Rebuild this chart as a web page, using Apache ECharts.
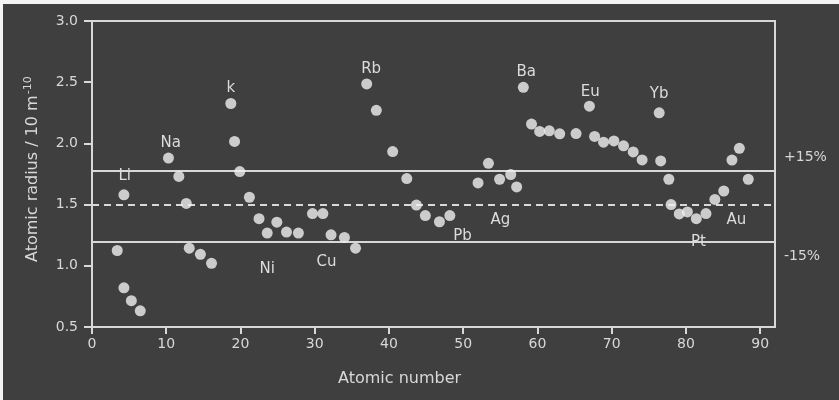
<!DOCTYPE html>
<html>
<head>
<meta charset="utf-8">
<script src="https://cdn.jsdelivr.net/npm/echarts@6/dist/echarts.min.js"></script>
<style>
html,body{margin:0;padding:0;background:#f4f4f4;}
#c{position:absolute;left:3px;top:4px;width:836px;height:396px;background:#3f3f3f;}
</style>
</head>
<body>
<div id="c"></div>
<script>
// Atomic numbers (x) and atomic radii (y, 10^-10 m)
const atomicNumber = [3.4,4.3,4.3,5.3,6.5,10.3,11.7,12.7,13.1,14.6,16.1,18.7,19.2,19.9,21.2,22.5,23.6,24.9,26.2,27.8,29.7,31.1,32.2,34.0,35.5,37.0,38.3,40.5,42.4,43.7,44.9,46.8,48.2,52.0,53.4,54.9,56.4,57.2,58.1,59.2,60.3,61.6,63.0,65.2,67.0,67.7,68.9,70.3,71.6,72.9,74.1,76.4,76.6,77.7,78.0,79.1,80.2,81.4,82.7,83.9,85.1,86.2,87.2,88.4];
const atomicRadius = [1.125,1.58,0.82,0.715,0.632,1.88,1.73,1.51,1.144,1.094,1.02,2.326,2.016,1.77,1.56,1.385,1.267,1.356,1.276,1.267,1.427,1.427,1.253,1.232,1.144,2.486,2.27,1.933,1.713,1.496,1.41,1.36,1.41,1.677,1.837,1.707,1.746,1.644,2.458,2.158,2.098,2.103,2.078,2.08,2.304,2.057,2.01,2.02,1.98,1.93,1.865,2.25,1.857,1.707,1.50,1.424,1.44,1.385,1.427,1.542,1.611,1.864,1.96,1.707];

// Element annotations (text anchor in data units)
const elementNames = ['Li','Na','k','Rb','Ni','Cu','Pb','Ag','Ba','Eu','Yb','Au','Pt'];
const elementX = [4.4,10.6,18.7,37.6,23.6,31.6,49.9,55.0,58.5,67.1,76.4,86.8,81.7];
const elementY = [1.73,2.0,2.45,2.61,0.97,1.03,1.24,1.37,2.58,2.42,2.40,1.375,1.19];

// Reference lines
const meanRadius = 1.5;
const upperLimit = 1.78;
const lowerLimit = 1.2;
const upperLabel = '+15%';
const lowerLabel = '-15%';

const xTicks = [0,10,20,30,40,50,60,70,80,90];
const yTicks = [0.5,1.0,1.5,2.0,2.5,3.0];

const fg = '#d8d8d8';
const font = 'DejaVu Sans';

const chart = echarts.init(document.getElementById('c'));
chart.setOption({
  backgroundColor: '#3f3f3f',
  animation: false,
  grid: {left: 89, right: 64, top: 17, bottom: 73, show: true, borderColor: fg, borderWidth: 2, backgroundColor: 'transparent'},
  xAxis: {
    type: 'value', min: 0, max: 92, interval: 10,
    axisLine: {show: true, lineStyle: {color: fg, width: 2}},
    axisTick: {show: true, length: 7, lineStyle: {color: fg, width: 2}, customValues: xTicks},
    axisLabel: {color: fg, fontFamily: font, fontSize: 14, margin: 10, customValues: xTicks},
    splitLine: {show: false}
  },
  yAxis: {
    type: 'value', min: 0.5, max: 3.0, interval: 0.5,
    axisLine: {show: true, lineStyle: {color: fg, width: 2}},
    axisTick: {show: true, length: 8, lineStyle: {color: fg, width: 2}, customValues: yTicks},
    axisLabel: {color: fg, fontFamily: font, fontSize: 14, margin: 14, customValues: yTicks, formatter: v => v.toFixed(1)},
    splitLine: {show: false}
  },
  graphic: [
    {type: 'text', left: 335, top: 367, style: {text: 'Atomic number', fill: fg, font: '16px "DejaVu Sans"'}},
    {type: 'text', x: 20, y: 258, rotation: Math.PI / 2,
     style: {text: '{n|Atomic radius / 10 m}{s|-10}', fill: fg,
       rich: {n: {fontFamily: font, fontSize: 16, fill: fg}, s: {fontFamily: font, fontSize: 11, fill: fg, verticalAlign: 'top', padding: [0,0,9,1]}}}}
  ],
  series: [
    {
      type: 'scatter',
      symbol: 'circle', symbolSize: 11,
      itemStyle: {color: '#f0f0f0'},
      data: atomicNumber.map((x, i) => [x, atomicRadius[i]]),
      z: 5,
      markLine: {
        silent: true, symbol: 'none', animation: false,
        data: [
          {yAxis: upperLimit, lineStyle: {color: fg, width: 2, type: 'solid'},
           label: {show: true, position: 'end', formatter: upperLabel, color: fg, fontFamily: font, fontSize: 14, distance: 9, offset: [0, -13]}},
          {yAxis: meanRadius, lineStyle: {color: fg, width: 2, type: [7, 5]}, label: {show: false}},
          {yAxis: lowerLimit, lineStyle: {color: fg, width: 2, type: 'solid'},
           label: {show: true, position: 'end', formatter: lowerLabel, color: fg, fontFamily: font, fontSize: 14, distance: 9, offset: [0, 15]}}
        ]
      }
    },
    {
      type: 'scatter', symbol: 'circle', symbolSize: 1, silent: true, z: 6,
      itemStyle: {color: 'rgba(0,0,0,0)', opacity: 1},
      data: elementNames.map((n, i) => ({name: n, value: [elementX[i], elementY[i]]})),
      label: {show: true, position: 'inside', formatter: p => p.name, color: '#dcdcdc', opacity: 1,
              textBorderWidth: 0, textShadowBlur: 0, fontFamily: font, fontSize: 15}
    }
  ]
});
</script>
</body>
</html>
